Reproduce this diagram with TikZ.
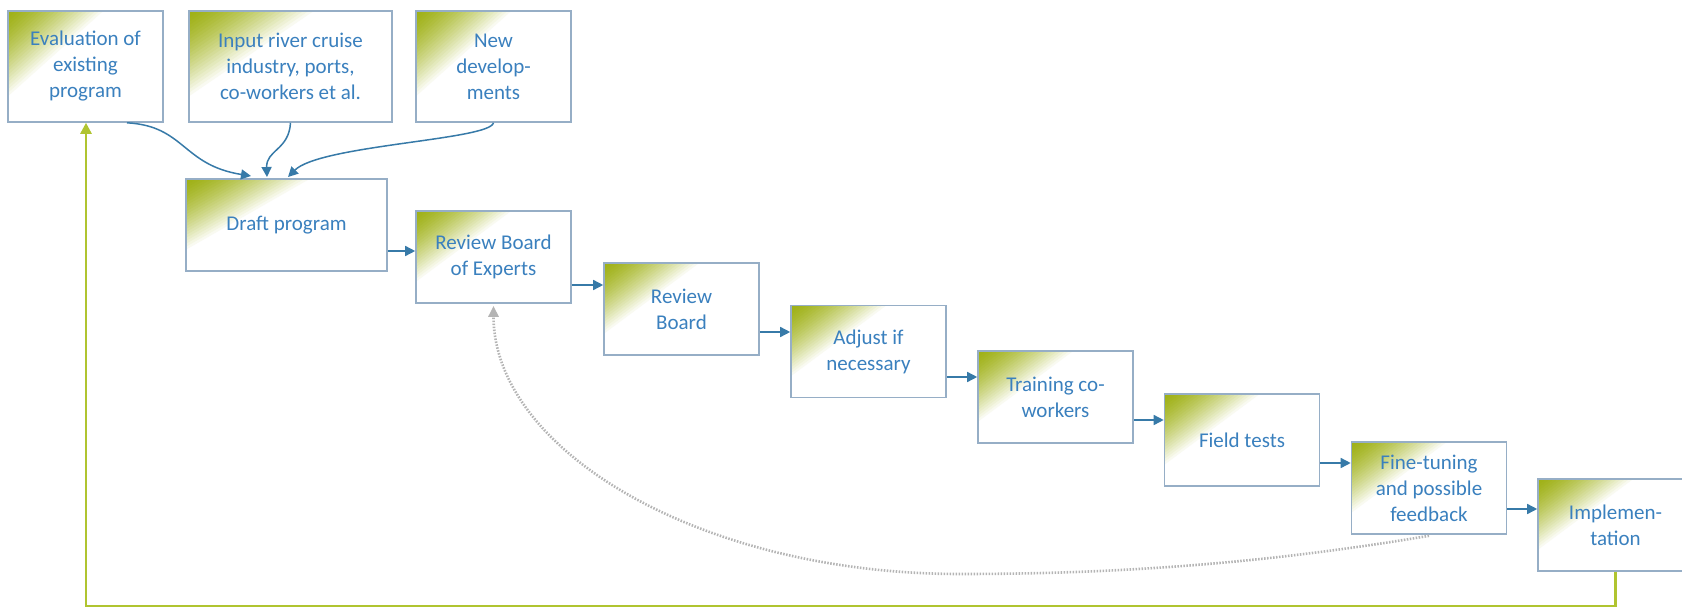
\documentclass[tikz,border=0pt]{standalone}
\usepackage{fontspec}
\setmainfont{Carlito}
\usetikzlibrary{arrows.meta,calc}
\definecolor{olivec}{RGB}{158,176,20}
\definecolor{textc}{RGB}{58,128,190}
\definecolor{borderc}{RGB}{150,174,198}
\definecolor{arrc}{RGB}{55,122,168}
\definecolor{loopc}{RGB}{176,196,48}
\definecolor{dotc}{RGB}{180,180,180}
\tikzset{
  cornergrad/.style={path picture={%
    \foreach \t in {1.00,0.96,...,0.02}{%
      \pgfmathsetmacro\pc{100*(1-\t^1.5)}%
      \fill[olivec!\pc!white] let \p1=(path picture bounding box.north west),
        \p2=(path picture bounding box.south east) in
        (\p1) -- (\x1+0.64*\t*\x2-0.64*\t*\x1, \y1) -- (\x1, \y1+0.8*\t*\y2-0.8*\t*\y1) -- cycle;
    }}},
  stepbox/.style={draw=borderc, line width=1.6pt, fill=white, cornergrad,
    minimum width=155pt, minimum height=92pt, inner sep=0pt, align=center, text=textc,
    font=\fontsize{21}{26}\selectfont},
  arr/.style={draw=arrc, line width=1.5pt, -{Triangle[length=10pt,width=10pt]}},
  looparr/.style={draw=loopc, line width=2.6pt, -{Triangle[length=11pt,width=11pt]}},
  dotarr/.style={draw=dotc, line width=2.6pt, dash pattern=on 1.5pt off 1.5pt, -{Triangle[length=11pt,width=10pt]}}
}
\begin{document}
\begin{tikzpicture}[x=1pt,y=-1pt]
\useasboundingbox (0,0) rectangle (1682,610);
% top row
\node[stepbox, minimum height=111pt] (eval) at (85.5,66.5) {Evaluation of\\existing\\program};
\node[stepbox, minimum height=111pt, minimum width=203pt] (input) at (290.5,66.5) {Input river cruise\\industry, ports,\\co-workers et al.};
\node[stepbox, minimum height=111pt] (new) at (493.5,66.5) {New\\develop-\\ments};
% chain
\node[stepbox, minimum width=201pt] (draft) at (286.5,225) {Draft program};
\node[stepbox] (rbe) at (493.5,257) {Review Board\\of Experts};
\node[stepbox] (rb) at (681.5,309) {Review\\Board};
\node[stepbox] (adj) at (868.5,351.5) {Adjust if\\necessary};
\node[stepbox] (train) at (1055.5,397) {Training co-\\workers};
\node[stepbox] (field) at (1242,440) {Field tests};
\node[stepbox] (fine) at (1429,488) {Fine-tuning\\and possible\\feedback};
\node[stepbox] (impl) at (1615.5,525) {Implemen-\\tation};
% inputs to draft
\coordinate (t1) at (251,176);
\coordinate (t2) at (267,177);
\coordinate (t3) at (288,177);
\draw[arr] (eval.south -| 127,0) .. controls (185,126) and (182,165) .. (t1);
\draw[arr] (input.south) .. controls (289,150) and (266,150) .. (t2);
\draw[arr] (new.south) .. controls (490,140) and (320,145) .. (t3);
% chain arrows
\draw[arr] (draft.east |- 0,251) -- (rbe.west |- 0,251);
\draw[arr] (rbe.east |- 0,285) -- (rb.west |- 0,285);
\draw[arr] (rb.east |- 0,332) -- (adj.west |- 0,332);
\draw[arr] (adj.east |- 0,377) -- (train.west |- 0,377);
\draw[arr] (train.east |- 0,420) -- (field.west |- 0,420);
\draw[arr] (field.east |- 0,463) -- (fine.west |- 0,463);
\draw[arr] (fine.east |- 0,509) -- (impl.west |- 0,509);
% feedback dotted
\coordinate (dlow) at (960,574);
\draw[dotarr] ([yshift=-1pt]fine.south) .. controls (1250,566) and (1100,574) .. (dlow)
  .. controls (700,574) and (493.5,450) .. ([yshift=-2pt]rbe.south);
% loop back
\coordinate (lr) at (1615.5,606);
\coordinate (ll) at (86,606);
\draw[looparr] (impl.south) -- (lr) -- (ll) -- (eval.south -| ll);
\end{tikzpicture}
\end{document}
